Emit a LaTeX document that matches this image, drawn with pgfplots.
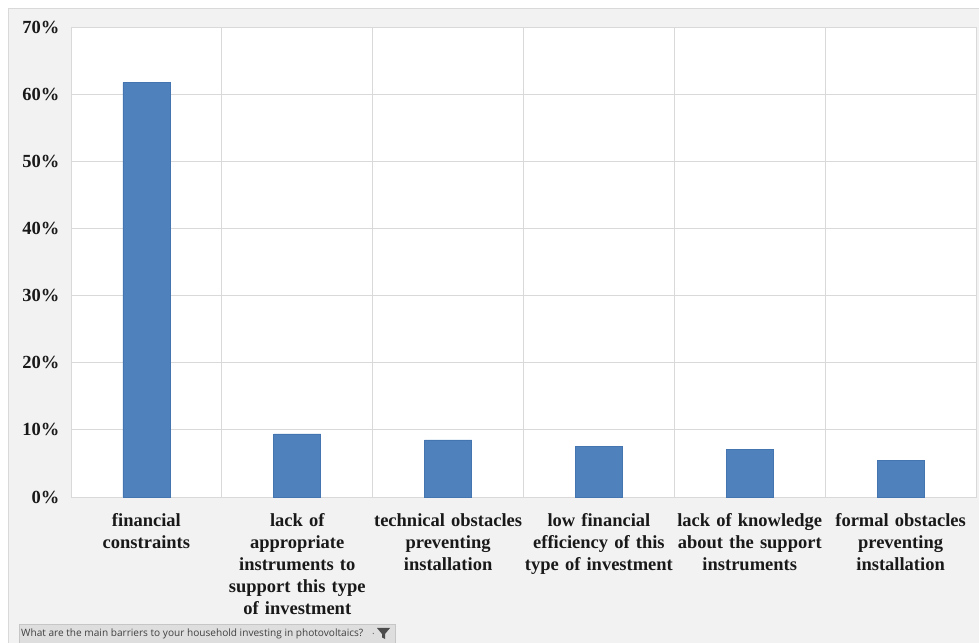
\documentclass[border=0pt]{standalone}
\usepackage{pgfplots}
\pgfplotsset{compat=1.18}
\usepackage{fontspec}
\setmainfont{Liberation Serif}
\newfontfamily\uifont{Open Sans}
\definecolor{barblue}{HTML}{4F81BD}
\definecolor{baredge}{HTML}{4475B0}
\definecolor{panel}{HTML}{F2F2F2}
\definecolor{gridc}{HTML}{D9D9D9}
\definecolor{btn}{HTML}{DEDEDE}
\begin{document}
\begin{tikzpicture}[x=1pt,y=1pt]
\useasboundingbox (0,0) rectangle (979,642);
\fill[white] (0,0) rectangle (979,642);
\filldraw[fill=panel,draw=gridc,line width=1pt] (8,-2) rectangle (982,633);
\begin{axis}[
  at={(71pt,145pt)}, anchor=south west,
  scale only axis, width=905pt, height=470pt,
  xmin=0.5, xmax=6.5, ymin=0, ymax=70,
  ybar, bar width=47pt,
  axis background/.style={fill=white},
  axis line style={gridc, line width=1pt},
  ytick={0,10,...,70},
  yticklabels={0\%,10\%,20\%,30\%,40\%,50\%,60\%,70\%},
  xtick={1,...,6},
  xticklabels={
    {financial\\constraints},
    {lack of\\appropriate\\instruments to\\support this type\\of investment},
    {technical obstacles\\preventing\\installation},
    {low financial\\efficiency of this\\type of investment},
    {lack of knowledge\\about the support\\instruments},
    {formal obstacles\\preventing\\installation}},
  minor xtick={1.5,2.5,3.5,4.5,5.5},
  ymajorgrids, xminorgrids,
  major grid style={gridc, line width=1pt},
  minor grid style={gridc, line width=1pt},
  major tick length=0pt, minor tick length=0pt,
  ticklabel style={font=\bfseries\fontsize{18.5}{22}\selectfont, text=black!90},
  xticklabel style={align=center, text width=152pt, yshift=-13pt},
  yticklabel style={xshift=-8pt},
]
\addplot[fill=barblue, draw=baredge, line width=0.6pt]
  coordinates {(1,61.7) (2,9.4) (3,8.5) (4,7.5) (5,7.1) (6,5.5)};
\end{axis}
\filldraw[fill=btn, draw=gray!45, line width=0.6pt] (19,-1) rectangle (395,18);
\node[anchor=west, inner sep=0pt, text=black!75, font=\uifont\fontsize{10.1}{12}\selectfont] at (21,8.5) {What are the main barriers to your household investing in photovoltaics?};
\node[anchor=west, inner sep=0pt, text=black!60, font=\uifont\fontsize{10}{12}\selectfont] at (372,8.5) {.};
\fill[black!70] (377,14) -- (390,14) -- (385,8) -- (385,3) -- (382,4.5) -- (382,8) -- cycle;
\end{tikzpicture}
\end{document}
